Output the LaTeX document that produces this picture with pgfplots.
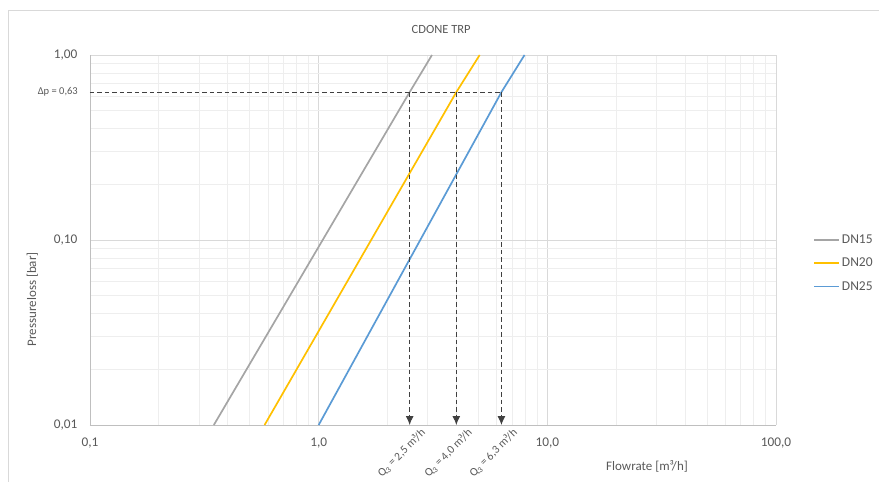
\documentclass[border=0pt]{standalone}
\usepackage{pgfplots}
\pgfplotsset{compat=1.18}
\usetikzlibrary{arrows.meta}
\usepackage{fontspec}
\setmainfont{Carlito}
\definecolor{txt}{HTML}{595959}
\definecolor{gmaj}{HTML}{D9D9D9}
\definecolor{gmin}{HTML}{EEEEEE}
\definecolor{axl}{HTML}{BFBFBF}
\definecolor{dn15}{HTML}{A5A5A5}
\definecolor{dn20}{HTML}{FFC000}
\definecolor{dn25}{HTML}{5B9BD5}
\definecolor{dsh}{HTML}{404040}
\begin{document}
\begin{tikzpicture}[x=1pt,y=1pt]
\useasboundingbox (0,0) rectangle (879,-482);
\draw[color=gmaj, line width=0.8pt] (8,-482) -- (8,-10) -- (879,-10);
\begin{axis}[
  at={(90pt,-425pt)}, anchor=south west,
  scale only axis, width=686pt, height=370pt,
  xmode=log, ymode=log,
  xmin=0.1, xmax=100, ymin=0.01, ymax=1,
  clip=false,
  axis lines*=left,
  axis line style={color=axl, line width=0.8pt},
  grid=both,
  major grid style={color=gmaj, line width=0.8pt},
  minor grid style={color=gmin, line width=0.7pt},
  major tick length=0pt, minor tick length=0pt,
  xtick={0.1,1,10,100},
  xticklabels={{0,1},{1,0},{10,0},{100,0}},
  ytick={0.01,0.1,1},
  yticklabels={{0,01},{0,10},{1,00}},
  ticklabel style={font=\fontsize{13.3}{15}\selectfont, text=txt},
  xticklabel style={yshift=-9pt},
  yticklabel style={xshift=-9pt},
  legend style={at={(axis description cs:1.054,0.437)}, anchor=west, draw=none, fill=none,
    font=\fontsize{13.5}{15}\selectfont, text=txt, inner sep=0pt, row sep=9pt},
  legend cell align=left,
  legend image code/.code={\draw[#1] (0pt,0pt) -- (25pt,0pt);},
]
\addplot[dn15, line width=1.7pt] coordinates {(0.348,0.01) (2.5,0.63) (3.13,1)};
\addlegendentry{DN15}
\addplot[dn20, line width=1.7pt] coordinates {(0.580,0.01) (4.0,0.63) (5.06,1)};
\addlegendentry{DN20}
\addplot[dn25, line width=1.7pt] coordinates {(1.0,0.01) (6.3,0.63) (7.95,1)};
\addlegendentry{DN25}
\addplot[forget plot, dsh, line width=1pt, dash pattern=on 4.5pt off 3pt] coordinates {(0.1,0.63) (6.3,0.63)};
\addplot[forget plot, dsh, line width=1pt, dash pattern=on 4.5pt off 3pt, -{Latex[length=9pt,width=8pt]}] coordinates {(2.5,0.63) (2.5,0.01)};
\addplot[forget plot, dsh, line width=1pt, dash pattern=on 4.5pt off 3pt, -{Latex[length=9pt,width=8pt]}] coordinates {(4.0,0.63) (4.0,0.01)};
\addplot[forget plot, dsh, line width=1pt, dash pattern=on 4.5pt off 3pt, -{Latex[length=9pt,width=8pt]}] coordinates {(6.3,0.63) (6.3,0.01)};
\node[anchor=east, text=txt, font=\fontsize{10.5}{12}\selectfont, inner sep=0pt] at ([xshift=-12pt]axis cs:0.1,0.63) {Δp = 0,63};
\node[anchor=east, rotate=45, text=txt, font=\fontsize{11.5}{13}\selectfont, inner sep=0pt] at ([xshift=14pt,yshift=-6pt]axis cs:2.5,0.01) {Q\textsubscript{3} = 2,5 m³/h};
\node[anchor=east, rotate=45, text=txt, font=\fontsize{11.5}{13}\selectfont, inner sep=0pt] at ([xshift=14pt,yshift=-6pt]axis cs:4.0,0.01) {Q\textsubscript{3} = 4,0 m³/h};
\node[anchor=east, rotate=45, text=txt, font=\fontsize{11.5}{13}\selectfont, inner sep=0pt] at ([xshift=14pt,yshift=-6pt]axis cs:6.3,0.01) {Q\textsubscript{3} = 6,3 m³/h};
\node[text=txt, font=\fontsize{13}{15}\selectfont] at (axis description cs:0.812,-0.111) {Flowrate [m³/h]};
\node[text=txt, font=\fontsize{13}{15}\selectfont, rotate=90] at (axis description cs:-0.084,0.34) {Pressureloss [bar]};
\node[text=txt, font=\fontsize{12.5}{14}\selectfont] at (axis description cs:0.512,1.068) {CDONE TRP};
\end{axis}
\end{tikzpicture}
\end{document}
